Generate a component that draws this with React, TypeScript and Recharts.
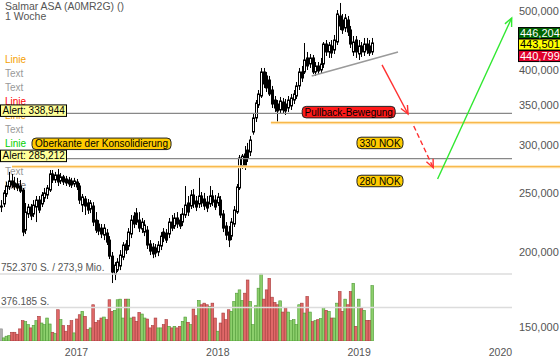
import React from 'react';
import { ComposedChart, Bar, XAxis, YAxis, ReferenceLine, ReferenceDot } from 'recharts';

document.body.style.margin = '0';

const FONT = '"Liberation Sans", Arial, sans-serif';

// weekly candles, first week = Mon 20.06.2016
const FIRST_WEEK = Date.UTC(2016, 5, 20);
const WEEK_MS = 7 * 24 * 3600 * 1000;
const years = [2017, 2018, 2019, 2020];
const priceTicks = [150, 200, 250, 300, 350, 400, 500];

const opens = [
  238.0, 239.9, 249.2, 256.0, 261.9, 259.9, 258.9, 256.9, 253.0, 217.1,
  230.9, 237.1, 230.9, 237.1, 243.5, 239.9, 245.4, 248.2, 253.0, 269.0,
  262.9, 268.0, 261.9, 266.0, 263.9, 262.9, 261.9, 258.9, 260.9, 256.9,
  238.9, 244.5, 240.8, 235.3, 238.0, 225.6, 222.2, 218.8, 213.0, 214.7,
  209.0, 196.6, 183.6, 186.4, 189.3, 195.8, 205.9, 204.3, 213.9, 229.1,
  231.7, 225.6, 218.0, 215.5, 217.1, 205.9, 203.5, 202.8, 199.7, 204.3,
  215.5, 214.7, 213.9, 223.9, 220.5, 227.4, 225.6, 223.9, 230.0, 240.8,
  238.0, 248.2, 242.6, 239.9, 247.3, 244.5, 241.6, 239.9, 247.3, 243.5,
  240.8, 243.5, 230.9, 220.5, 215.5, 212.2, 222.2, 232.6, 255.0, 277.3,
  290.3, 294.7, 292.5, 315.7, 333.1, 350.0, 362.2, 397.0, 391.0, 385.0,
  370.6, 356.7, 351.3, 343.4, 354.0, 351.3, 346.0, 348.7, 356.7, 362.2,
  376.4, 397.0, 397.0, 418.8, 409.3, 418.8, 397.0, 406.2, 400.0, 409.3,
  441.7, 428.5, 438.4, 431.7, 445.1, 491.6, 484.1, 469.6, 484.1, 466.0,
  428.5, 448.5, 425.2, 438.4, 428.5, 441.7, 438.4, 428.5,
];
const closes = [
  238.0, 250.2, 257.0, 261.9, 257.9, 256.0, 255.0, 252.0, 215.5, 232.6,
  237.1, 229.1, 238.9, 243.5, 234.4, 248.2, 250.2, 255.0, 269.0, 262.9,
  268.0, 260.9, 266.0, 260.9, 259.9, 258.9, 257.9, 261.9, 256.0, 243.5,
  246.4, 238.0, 234.4, 240.8, 223.9, 217.1, 216.3, 213.9, 218.8, 207.4,
  196.6, 185.0, 190.0, 192.2, 197.4, 205.1, 201.2, 215.5, 225.6, 222.2,
  223.9, 218.8, 223.9, 221.4, 205.1, 200.4, 198.2, 199.0, 205.1, 212.2,
  210.6, 209.0, 223.9, 218.8, 227.4, 222.2, 220.5, 230.9, 238.9, 232.6,
  248.2, 239.9, 237.1, 247.3, 240.8, 238.0, 236.2, 247.3, 241.6, 237.1,
  246.4, 230.0, 218.8, 213.0, 209.0, 223.9, 234.4, 256.0, 285.9, 288.0,
  277.3, 285.9, 306.2, 333.1, 352.7, 365.0, 397.0, 379.2, 373.5, 365.0,
  351.3, 346.0, 342.1, 355.4, 343.4, 342.1, 356.7, 359.5, 365.0, 376.4,
  397.0, 388.0, 415.6, 406.2, 418.8, 397.0, 406.2, 398.5, 409.3, 441.7,
  428.5, 440.1, 426.8, 448.5, 495.3, 473.2, 466.0, 487.8, 462.4, 441.7,
  445.1, 428.5, 438.4, 428.5, 441.7, 431.7, 426.8, 443.5,
];
const highs = [
  243.5, 253.0, 260.9, 271.1, 269.0, 266.0, 265.0, 262.9, 255.0, 240.8,
  239.9, 239.9, 243.5, 247.3, 247.3, 251.1, 255.0, 257.9, 273.1, 273.1,
  271.1, 274.2, 270.0, 268.0, 267.0, 266.0, 265.0, 265.0, 263.9, 259.9,
  249.2, 247.3, 244.5, 243.5, 241.6, 232.6, 225.6, 222.2, 222.2, 218.0,
  212.2, 199.7, 192.2, 195.1, 201.2, 207.4, 209.0, 218.8, 230.0, 232.6,
  236.2, 232.6, 227.4, 225.6, 220.5, 209.0, 206.7, 205.9, 208.2, 215.5,
  218.8, 218.0, 227.4, 230.0, 231.7, 232.6, 230.9, 236.2, 256.9, 247.3,
  253.0, 254.0, 247.3, 265.0, 251.1, 250.2, 247.3, 256.9, 253.0, 248.2,
  250.2, 247.3, 234.4, 223.9, 220.5, 227.4, 238.0, 258.9, 289.2, 290.3,
  299.3, 302.8, 311.0, 338.2, 356.7, 370.6, 403.1, 403.1, 397.0, 391.0,
  376.4, 362.2, 356.7, 360.9, 359.5, 358.1, 362.2, 365.0, 370.6, 382.1,
  403.1, 406.2, 443.4, 428.5, 425.2, 423.6, 412.4, 412.4, 418.8, 445.1,
  448.5, 445.1, 448.5, 457.2, 502.9, 516.6, 495.3, 495.3, 491.6, 473.2,
  455.4, 455.4, 448.5, 445.1, 452.0, 452.0, 448.5, 452.0,
];
const lows = [
  232.6, 237.1, 246.4, 253.0, 255.0, 253.0, 252.0, 250.2, 212.2, 213.9,
  227.4, 225.6, 228.2, 223.9, 231.7, 237.1, 241.6, 244.5, 251.1, 259.9,
  259.9, 256.9, 258.9, 257.9, 256.9, 256.0, 255.0, 256.0, 253.0, 239.9,
  232.6, 230.0, 230.9, 231.7, 220.5, 214.7, 213.0, 210.6, 209.0, 205.1,
  194.4, 177.4, 179.4, 185.0, 186.4, 193.6, 198.2, 201.2, 210.6, 218.8,
  221.4, 215.5, 214.7, 212.2, 202.0, 197.4, 195.1, 195.8, 196.6, 201.2,
  207.4, 206.7, 210.6, 216.3, 218.0, 218.8, 218.0, 220.5, 227.4, 229.1,
  235.3, 236.2, 233.5, 236.2, 237.1, 234.4, 232.6, 237.1, 238.0, 234.4,
  238.0, 227.4, 215.5, 209.0, 203.5, 209.0, 219.7, 230.9, 253.0, 274.2,
  273.1, 281.6, 288.0, 312.5, 328.0, 346.0, 359.5, 373.5, 367.8, 362.2,
  346.0, 340.8, 328.0, 339.5, 338.2, 336.9, 340.8, 343.4, 351.3, 358.1,
  370.6, 382.1, 393.9, 400.0, 403.1, 393.9, 391.0, 393.9, 395.5, 403.1,
  422.0, 418.8, 418.8, 425.2, 440.1, 466.0, 459.0, 462.4, 455.4, 435.0,
  422.0, 418.8, 415.6, 420.4, 422.0, 425.2, 422.0, 423.6,
];
// shares traded per week, in thousands
const volumes = [
  136, 35, 54, 61, 98, 98, 76, 136, 228, 217,
  184, 147, 176, 228, 277, 202, 184, 258, 191, 98,
  84, 351, 240, 173, 110, 173, 228, 91, 247, 295,
  333, 277, 128, 147, 407, 210, 228, 258, 269, 240,
  463, 333, 344, 463, 470, 258, 470, 470, 258, 269,
  221, 321, 303, 258, 247, 147, 173, 258, 147, 147,
  184, 240, 165, 147, 165, 147, 165, 221, 269, 210,
  184, 359, 284, 455, 407, 425, 407, 388, 425, 258,
  110, 202, 314, 240, 351, 333, 444, 537, 574, 455,
  537, 685, 444, 184, 396, 593, 752.37, 470, 574, 704,
  492, 433, 407, 451, 325, 370, 325, 228, 240, 184,
  407, 425, 314, 500, 325, 217, 228, 240, 251, 377,
  344, 333, 258, 258, 425, 555, 333, 470, 407, 555,
  648, 165, 470, 366, 344, 232, 232, 622,
];

const legendLabels = ['Linie', 'Text', 'Text', 'Linie', 'Linie', 'Text', 'Linie', 'Text', 'Text', 'Linie'];
const legendColors = ['#f5a000', '#999', '#999', '#f00', '#f5a000', '#999', '#00d000', '#999', '#999', '#777'];

// drawings: x in weeks since first candle, y in NOK
const alerts = [338.944, 285.212];
const zones = [{ from: 99.6, price: 327.2 }, { from: 4.06, price: 276.6 }];
const trendLine = [{ x: 114.65, y: 391.0 }, { x: 146.5, y: 428.5 }];
const arrows = [
  { from: { x: 140.6, y: 407.8 }, to: { x: 150.2, y: 338.2 }, color: '#ff3030', dash: undefined as string | undefined },
  { from: { x: 152.3, y: 323.1 }, to: { x: 159.5, y: 275.5 }, color: '#ff3030', dash: '5 3' },
  { from: { x: 161.1, y: 263.9 }, to: { x: 188.45, y: 487.9 }, color: '#30e830', dash: undefined },
];
const tags = [
  { text: 'Pullback-Bewegung', x: 128.3, y: 340.6, w: 93, fill: '#ff1a1a' },
  { text: 'Oberkante der Konsolidierung', x: 37.1, y: 301.8, w: 139, fill: '#ffcc00' },
  { text: '330 NOK', x: 139.85, y: 302.8, w: 46, fill: '#ffcc00' },
  { text: '280 NOK', x: 139.85, y: 261.9, w: 46, fill: '#ffcc00' },
];

const rows = opens.map((o, i) => ({
  t: i, o, h: highs[i], l: lows[i], c: closes[i], v: volumes[i] * 1000,
}));
const yearTicks = years.map((y) => (Date.UTC(y, 0, 1) - FIRST_WEEK) / WEEK_MS);

const X_DOMAIN: [number, number] = [-0.37, 188.56];
const PRICE_DOMAIN: [number, number] = [142.2, 522.5];
const VOL_DOMAIN: [number, number] = [0, 3829000];
const X_RIGHT = 206.3;

const fmt = (v: number) => v.toFixed(3).replace('.', ',');

const Wick = (p: any) => {
  const { x, y, width, height } = p;
  const cx = Math.round(x + width / 2) + 0.5;
  return <line x1={cx} x2={cx} y1={y} y2={y + height} stroke="#000" strokeWidth={1} />;
};

const Body = (p: any) => {
  const { x, y, width, height, payload } = p;
  const left = Math.round(x + width / 2) - 1;
  const top = Math.min(y, y + height);
  const h = Math.max(Math.abs(height), 1);
  const up = payload.c >= payload.o;
  return <rect x={left + 0.5} y={top} width={2} height={h} fill={up ? '#fff' : '#000'} stroke="#000" strokeWidth={1} />;
};

const VolBar = (p: any) => {
  const { x, y, width, height, payload } = p;
  const col = payload.c > payload.o ? ['#8ccf6c', '#4f9a35'] : payload.c < payload.o ? ['#e06868', '#a63c3c'] : ['#b0b0b0', '#888'];
  return <rect x={x} y={y} width={width} height={height} fill={col[0]} stroke={col[1]} strokeWidth={0.6} />;
};

const YearTick = (p: any) => {
  const i = yearTicks.indexOf(p.payload.value);
  return (
    <text x={p.x} y={356} textAnchor="middle" fontSize={10.5} fill="#555" fontFamily={FONT}>
      {i >= 0 ? years[i] : ''}
    </text>
  );
};

const AlertTag = (p: any) => {
  const y = p.viewBox.y;
  return (
    <g>
      <rect x={0.5} y={y - 8.5} width={66} height={11.5} fill="#ffff99" stroke="#000" />
      <text x={2.5} y={y + 0.5} fontSize={10} fill="#000" fontFamily={FONT}>{p.text}</text>
    </g>
  );
};

const VolLabel = (p: any) => (
  <text x={p.viewBox.x + 1} y={p.viewBox.y - 2.5} fontSize={10} fill="#555" fontFamily={FONT}>{p.text}</text>
);

const Arrow = (p: any) => {
  const { x1, y1, x2, y2, color, dash } = p;
  const a = Math.atan2(y2 - y1, x2 - x1);
  const len = 9;
  const s = 0.42;
  const h1 = `${x2 - len * Math.cos(a - s)},${y2 - len * Math.sin(a - s)}`;
  const h2 = `${x2 - len * Math.cos(a + s)},${y2 - len * Math.sin(a + s)}`;
  return (
    <g>
      <line x1={x1} y1={y1} x2={x2} y2={y2} stroke={color} strokeWidth={1.4} strokeDasharray={dash} />
      <polyline points={`${h1} ${x2},${y2} ${h2}`} fill="none" stroke={color} strokeWidth={1.4} />
    </g>
  );
};

const Zone = (p: any) => (
  <g>
    <line x1={p.x1} y1={p.y1} x2={p.x2} y2={p.y2} stroke="#ffe4b0" strokeWidth={3} />
    <line x1={p.x1} y1={p.y1} x2={p.x2} y2={p.y2} stroke="#f7b13c" strokeWidth={1} />
  </g>
);

const Tag = ({ cx, cy, text, w, fill }: any) => (
  <g>
    <rect x={cx - w / 2} y={cy - 5.75} width={w} height={11.5} rx={4} fill={fill} stroke="#222" strokeWidth={1} />
    <text x={cx} y={cy + 3.6} textAnchor="middle" fontSize={10} fill="#000" fontFamily={FONT}>{text}</text>
  </g>
);

const PriceBoxes = ({ cx, cy }: any) => {
  const boxes = [
    { dy: -15.4, bg: '#006400', fg: '#fff', v: 446.204 },
    { dy: -3.9, bg: '#ffff00', fg: '#000', v: 443.501 },
    { dy: 7.6, bg: '#e0002a', fg: '#fff', v: 440.799 },
  ];
  return (
    <g>
      {boxes.map((b) => (
        <g key={b.v}>
          <rect x={cx + 6.5} y={cy + b.dy} width={44} height={11} fill={b.bg} stroke="#000" strokeWidth={1} />
          <text x={cx + 8} y={cy + b.dy + 9} fontSize={11} fill={b.fg} fontFamily={FONT}>{fmt(b.v)}</text>
        </g>
      ))}
    </g>
  );
};

export default function App() {
  return (
    <div style={{ position: 'relative', width: 560, height: 362, background: '#fff', fontFamily: FONT }}>
      <svg width={560} height={362} style={{ position: 'absolute', left: 0, top: 0 }} fontFamily={FONT}>
        <text x={5} y={10} fontSize={10.5} fill="#555">Salmar ASA (A0MR2G) ()</text>
        <text x={5} y={19.5} fontSize={10.5} fill="#555">1 Woche</text>
        {legendLabels.map((s, i) => (
          <text key={i} x={5} y={63 + i * 14} fontSize={10} fill={legendColors[i]}>{s}</text>
        ))}
      </svg>
      <div style={{ position: 'absolute', left: 0, top: 0 }}>
        <ComposedChart width={560} height={362} data={rows} margin={{ top: 0, right: 0, bottom: 0, left: 0 }}>
          <XAxis
            xAxisId="p" type="number" dataKey="t" domain={X_DOMAIN} allowDataOverflow
            ticks={yearTicks} interval={0}
            axisLine={false} tickLine={false} tickSize={0} tickMargin={0} height={21}
            tick={<YearTick />}
          />
          <XAxis xAxisId="b" type="number" dataKey="t" domain={X_DOMAIN} allowDataOverflow hide />
          <XAxis xAxisId="v" type="number" dataKey="t" domain={X_DOMAIN} allowDataOverflow hide />
          <YAxis
            yAxisId="p" orientation="right" scale="log" domain={PRICE_DOMAIN} allowDataOverflow
            ticks={priceTicks} interval={0} tickFormatter={fmt} width={48}
            axisLine={false} tickLine={false} tickSize={0} tickMargin={7}
            tick={{ fontSize: 11, fill: '#555', fontFamily: FONT }}
          />
          <YAxis yAxisId="v" domain={VOL_DOMAIN} allowDataOverflow hide />

          <ReferenceLine xAxisId="v" yAxisId="v" y={752370} stroke="#dcdcdc" strokeWidth={1.5}
            label={<VolLabel text="752.370 S. / 273,9 Mio." />} />
          <ReferenceLine xAxisId="v" yAxisId="v" y={376185} stroke="#dcdcdc" strokeWidth={1.5}
            label={<VolLabel text="376.185 S." />} />

          <Bar xAxisId="v" yAxisId="v" dataKey="v" barSize={2.7} shape={<VolBar />} isAnimationActive={false} />

          {zones.map((z, i) => (
            <ReferenceLine key={i} xAxisId="p" yAxisId="p" ifOverflow="visible"
              segment={[{ x: z.from, y: z.price }, { x: X_RIGHT, y: z.price }]}
              shape={(p: any) => <Zone {...p} />} />
          ))}
          {alerts.map((a) => (
            <ReferenceLine key={a} xAxisId="p" yAxisId="p" y={a} stroke="#888" strokeWidth={1.3}
              label={<AlertTag text={`Alert: ${fmt(a)}`} />} />
          ))}

          <Bar xAxisId="p" yAxisId="p" dataKey={(d: any) => [d.l, d.h]} barSize={3} shape={<Wick />} isAnimationActive={false} />
          <Bar xAxisId="b" yAxisId="p" dataKey={(d: any) => [Math.min(d.o, d.c), Math.max(d.o, d.c)]} barSize={3} shape={<Body />} isAnimationActive={false} />

          <ReferenceLine xAxisId="p" yAxisId="p" ifOverflow="visible" segment={trendLine} stroke="#9a9a9a" strokeWidth={1.5} />
          {arrows.map((a, i) => (
            <ReferenceLine key={i} xAxisId="p" yAxisId="p" ifOverflow="visible"
              segment={[a.from, a.to]}
              shape={(p: any) => <Arrow {...p} color={a.color} dash={a.dash} />} />
          ))}

          {tags.map((t) => (
            <ReferenceDot key={t.text} xAxisId="p" yAxisId="p" x={t.x} y={t.y} ifOverflow="visible"
              shape={(p: any) => <Tag cx={p.cx} cy={p.cy} text={t.text} w={t.w} fill={t.fill} />} />
          ))}
          <ReferenceDot xAxisId="p" yAxisId="p" x={X_DOMAIN[1]} y={443.501} ifOverflow="visible"
            shape={(p: any) => <PriceBoxes cx={p.cx} cy={p.cy} />} />
        </ComposedChart>
      </div>
    </div>
  );
}
